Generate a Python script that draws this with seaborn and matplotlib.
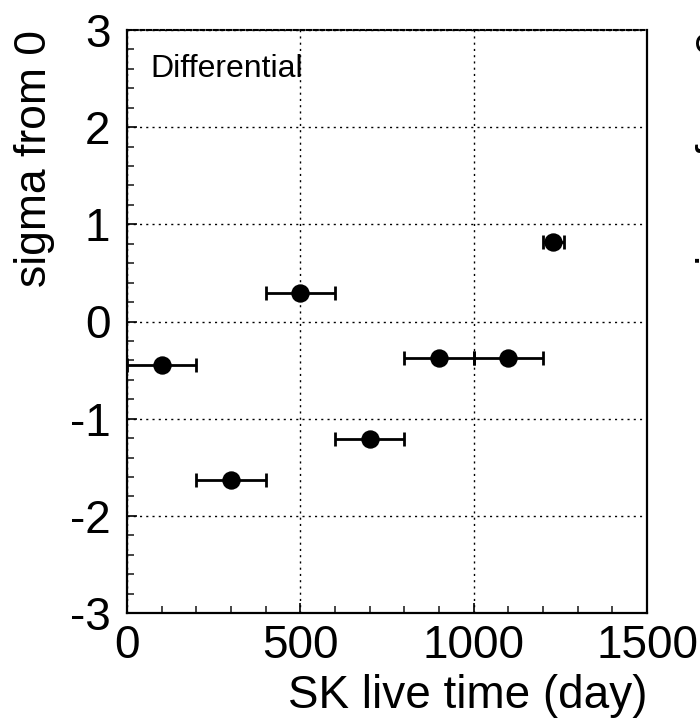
import matplotlib
matplotlib.use("Agg")
import matplotlib.pyplot as plt
from matplotlib.ticker import MultipleLocator
import seaborn as sns
import pandas as pd

# ---- data ----
live_time_day = [100, 300, 500, 700, 900, 1100, 1230]
sigma_from_0 = [-0.45, -1.63, 0.29, -1.21, -0.38, -0.38, 0.82]
bin_half_width = [100, 100, 100, 100, 100, 100, 30]
x_ticks = [0, 500, 1000, 1500]
y_ticks = [-3, -2, -1, 0, 1, 2, 3]
panel_label = "Differential"
x_label = "SK live time (day)"
y_label = "sigma from 0"

df = pd.DataFrame({"t": live_time_day, "s": sigma_from_0, "dt": bin_half_width})

sns.set_theme(style="white")
plt.rcParams["font.family"] = ["Liberation Sans", "DejaVu Sans"]

fig = plt.figure(figsize=(7.0, 7.27), dpi=100)
ax = fig.add_axes([127 / 700, 1 - 613 / 727, 520 / 700, 583 / 727])

ax.errorbar(df["t"], df["s"], xerr=df["dt"], fmt="none", ecolor="black",
            elinewidth=2.0, capsize=5.0, capthick=2.0, zorder=3)
sns.scatterplot(data=df, x="t", y="s", ax=ax, color="black", s=175,
                edgecolor="black", linewidth=0, zorder=4, legend=False)

ax.set_xlim(0, 1500)
ax.set_ylim(-3, 3)
ax.set_xticks(x_ticks)
ax.set_xticklabels([str(v) for v in x_ticks])
ax.set_yticks(y_ticks)
ax.set_yticklabels([str(v) for v in y_ticks])
ax.xaxis.set_minor_locator(MultipleLocator(100))
ax.yaxis.set_minor_locator(MultipleLocator(0.2))

ax.tick_params(axis="both", which="major", direction="in", length=7, width=1.2,
               labelsize=33, colors="black", bottom=True, left=True, top=False, right=False)
ax.tick_params(axis="x", which="major", pad=8)
ax.tick_params(axis="y", which="major", pad=12)
ax.tick_params(axis="both", which="minor", direction="in", length=5, width=1.2,
               bottom=True, left=True, top=False, right=False)

ax.grid(True, which="major", color="black", linewidth=1.0, linestyle=(0, (1.5, 3)))
ax.set_axisbelow(True)

for side in ["left", "bottom", "right"]:
    ax.spines[side].set_visible(True)
    ax.spines[side].set_color("black")
    ax.spines[side].set_linewidth(1.6)
ax.spines["top"].set_visible(True)
ax.spines["top"].set_color("black")
ax.spines["top"].set_linewidth(1.5)
ax.spines["top"].set_linestyle((0, (2, 1.2)))

ax.set_xlabel(x_label, fontsize=33, loc="right", color="black")
ax.xaxis.set_label_coords(1.0, -0.105)
ax.xaxis.label.set_va("top")
ax.set_ylabel(y_label, fontsize=32, loc="top", color="black")
ax.yaxis.set_label_coords(-0.1385, 1.0)

ax.text(0.045, 0.919, panel_label, transform=ax.transAxes, fontsize=23,
        ha="left", va="baseline", color="black")

# neighbouring panel's y label, cut off at the right edge of the figure
fig.text(696 / 700, 1 - 30 / 727, y_label, rotation=90, fontsize=32,
         ha="left", va="top", color="black")

fig.savefig("out.png", dpi=100, facecolor="white")
